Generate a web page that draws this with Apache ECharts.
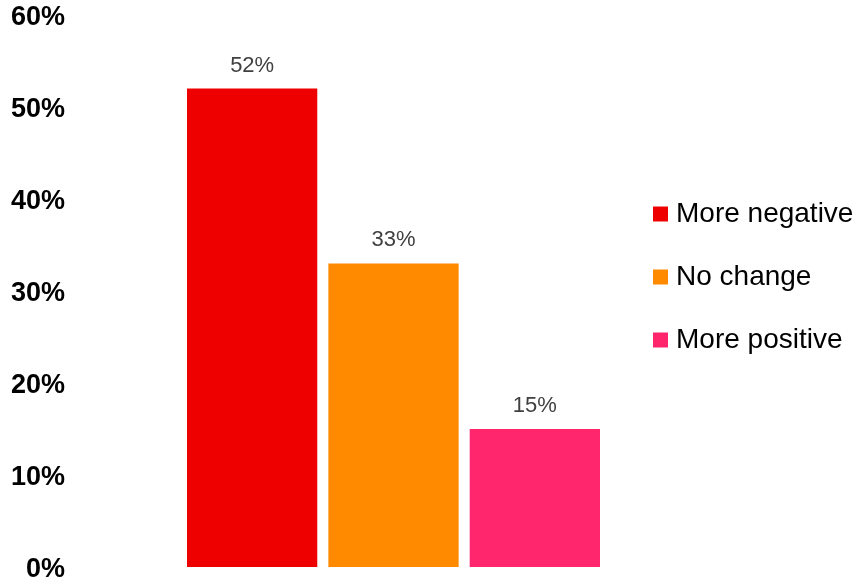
<!DOCTYPE html>
<html>
<head>
<meta charset="utf-8">
<script src="https://cdn.jsdelivr.net/npm/echarts@6/dist/echarts.min.js"></script>
<style>
  html, body { margin: 0; padding: 0; background: #fff; }
  #chart { width: 859px; height: 579px; }
</style>
</head>
<body>
<div id="chart"></div>
<script>
// Share of responses by direction of change (percent)
const categories = ['Response'];
const seriesNames = ['More negative', 'No change', 'More positive'];
const seriesValues = [52, 33, 15];
const seriesColors = ['#EE0000', '#FF8A00', '#FF266E'];
const yTicks = [0, 10, 20, 30, 40, 50, 60];

const chart = echarts.init(document.getElementById('chart'));

const series = seriesNames.map((name, i) => ({
  name: name,
  type: 'bar',
  data: [seriesValues[i]],
  barGap: '8.5%',
  barCategoryGap: '0%',
  itemStyle: { color: seriesColors[i] },
  label: {
    show: true,
    position: 'top',
    distance: 12,
    formatter: '{c}%',
    color: '#404040',
    fontFamily: 'Liberation Sans, Arial, sans-serif',
    fontSize: 22
  }
}));

chart.setOption({
  animation: false,
  grid: {
    left: 187, width: 413, top: 15, bottom: 12,
    containLabel: false,
    outerBoundsMode: 'none'
  },
  xAxis: {
    type: 'category',
    data: categories,
    axisLine: { show: false },
    axisTick: { show: false },
    axisLabel: { show: false }
  },
  yAxis: {
    type: 'value',
    min: yTicks[0],
    max: yTicks[yTicks.length - 1],
    interval: 10,
    splitLine: { show: false },
    axisLine: { show: false },
    axisTick: { show: false },
    axisLabel: {
      formatter: '{value}%',
      margin: 122,
      color: '#000',
      fontWeight: 'bold',
      fontFamily: 'Liberation Sans, Arial, sans-serif',
      fontSize: 27,
      verticalAlign: 'top',
      lineHeight: 6
    }
  },
  legend: {
    orient: 'vertical',
    left: 653,
    top: 200,
    padding: 0,
    itemWidth: 15,
    itemHeight: 15,
    itemGap: 35,
    icon: 'rect',
    data: seriesNames,
    textStyle: {
      color: '#000',
      fontFamily: 'Liberation Sans, Arial, sans-serif',
      fontSize: 28,
      padding: [0, 0, 0, 3]
    }
  },
  series: series
});
</script>
</body>
</html>
